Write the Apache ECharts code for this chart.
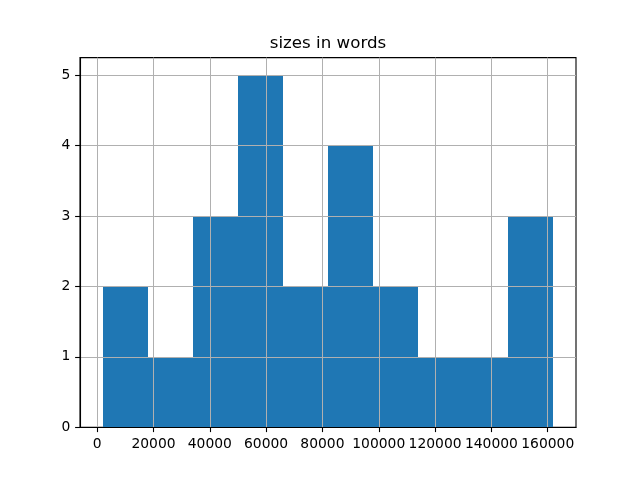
<!DOCTYPE html>
<html>
<head>
<meta charset="utf-8">
<script src="https://cdn.jsdelivr.net/npm/echarts@6/dist/echarts.min.js"></script>
<style>html,body{margin:0;padding:0;background:#fff}#c{width:640px;height:480px}</style>
</head>
<body>
<div id="c"></div>
<script>
const chartTitle = 'sizes in words';
const binEdges = [1920, 17931, 33941, 49952, 65963, 81974, 97984, 113995, 130006, 146016, 162027];
const counts = [2, 1, 3, 5, 2, 4, 2, 1, 1, 3];
const xTicks = [0, 20000, 40000, 60000, 80000, 100000, 120000, 140000, 160000];
const yTicks = [0, 1, 2, 3, 4, 5];

const barData = counts.map((c, i) => [binEdges[i], binEdges[i + 1], c]);
const xSpan = binEdges[binEdges.length - 1] - binEdges[0];
const xMin = binEdges[0] - 0.05 * xSpan;
const xMax = binEdges[binEdges.length - 1] + 0.05 * xSpan;
const yMax = Math.max(...counts) * 1.05;

const font = 'DejaVu Sans';
const chart = echarts.init(document.getElementById('c'), null, {renderer: 'canvas'});
chart.setOption({
  animation: false,
  backgroundColor: '#fff',
  grid: {left: 80, right: 64, top: 57.6, bottom: 52.8, show: true, borderColor: '#000', borderWidth: 1.1, backgroundColor: 'transparent'},
  graphic: [{
    type: 'text', x: 328, y: 43.5, z: 10,
    style: {text: chartTitle, font: '16.67px "DejaVu Sans"', fill: '#000', align: 'center', verticalAlign: 'middle'}
  }],
  xAxis: {
    type: 'value', min: xMin, max: xMax, z: 5,
    axisLine: {show: true, onZero: false, lineStyle: {color: '#000', width: 1.1}},
    axisTick: {show: true, length: 4.9, lineStyle: {color: '#000', width: 1.1}, customValues: xTicks},
    axisLabel: {show: true, margin: 9.7, color: '#000', fontFamily: font, fontSize: 13.89, customValues: xTicks, formatter: v => String(v)},
    splitLine: {show: true, lineStyle: {color: '#b0b0b0', width: 1}}
  },
  yAxis: {
    type: 'value', min: 0, max: yMax, z: 5,
    axisLine: {show: true, onZero: false, lineStyle: {color: '#000', width: 1.1}},
    axisTick: {show: true, length: 4.9, lineStyle: {color: '#000', width: 1.1}, customValues: yTicks},
    axisLabel: {show: true, margin: 9.7, color: '#000', fontFamily: font, fontSize: 13.89, customValues: yTicks, formatter: v => String(v)},
    splitLine: {show: true, lineStyle: {color: '#b0b0b0', width: 1}}
  },
  series: [{
    type: 'custom', z: 2,
    data: barData,
    encode: {x: [0, 1], y: 2},
    renderItem: function (params, api) {
      const p0 = api.coord([api.value(0), api.value(2)]);
      const p1 = api.coord([api.value(1), 0]);
      const x0 = Math.round(p0[0]), x1 = Math.round(p1[0]);
      const y0 = Math.round(p0[1]), y1 = p1[1];
      return {type: 'rect', shape: {x: x0, y: y0, width: x1 - x0, height: y1 - y0}, style: {fill: '#1f77b4'}};
    }
  }]
});
</script>
</body>
</html>
